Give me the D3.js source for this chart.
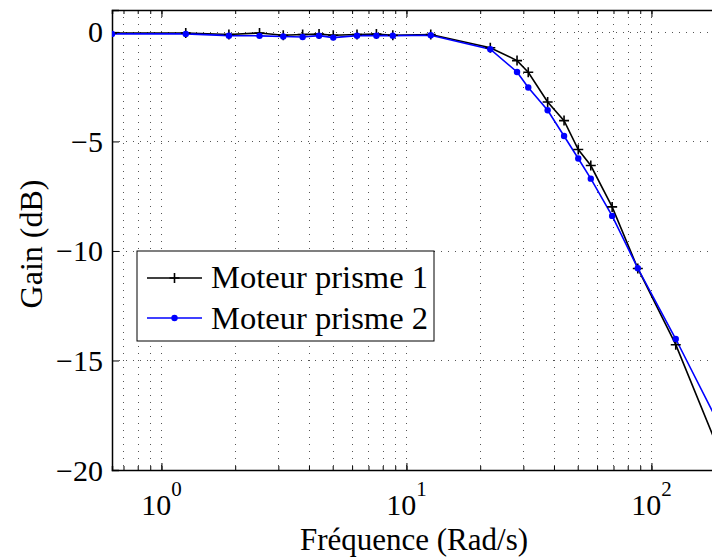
<!DOCTYPE html>
<html><head><meta charset="utf-8">
<script src="https://cdn.jsdelivr.net/npm/d3@7"></script>
<style>
body{margin:0;background:#fff;}
text{font-family:"Liberation Serif","Times New Roman",serif;}
</style></head>
<body><svg id="c" width="712" height="559"></svg>
<script>
const freqs = [0.6283,1.2566,1.885,2.5133,3.1416,3.7699,4.3982,5.0265,6.2832,7.5398,8.7965,12.566,21.991,28.274,31.416,37.699,43.982,50.265,56.549,69.115,87.965,125.66,188.5];
const gain1 = [-0.05,-0.05,-0.12,-0.05,-0.15,-0.12,-0.1,-0.15,-0.12,-0.1,-0.15,-0.12,-0.72,-1.31,-1.84,-3.2,-4.05,-5.37,-6.1,-7.99,-10.8,-14.28,-19.1];
const gain2 = [-0.09,-0.09,-0.17,-0.18,-0.21,-0.23,-0.17,-0.26,-0.17,-0.17,-0.17,-0.15,-0.79,-1.83,-2.54,-3.58,-4.75,-5.78,-6.7,-8.4,-10.79,-14.02,-17.9];
const seriesNames = ["Moteur prisme 1","Moteur prisme 2"];
const yTicks = [0,-5,-10,-15,-20];
const xMajor = [1,10,100];
const xDomain = [0.6283,188.5];
const yDomain = [-20,1];

const svg = d3.select("#c");
const L=112, T=10, B=470;
const R = L + (Math.log10(xDomain[1])-Math.log10(xDomain[0]))*245;
const x = d3.scaleLog().domain(xDomain).range([L,R]);
const y = d3.scaleLinear().domain(yDomain).range([B,T]);

// minor ticks
const minor=[];
for(let d=-1; d<=2; d++) for(let k=1;k<10;k++){const v=k*Math.pow(10,d); if(v>=xDomain[0]&&v<=xDomain[1]) minor.push(v);}

const grid = svg.append("g").attr("stroke","#555").attr("stroke-width",1).attr("stroke-dasharray","1,6").attr("fill","none");
minor.forEach(v=>grid.append("line").attr("x1",Math.round(x(v))+0.5).attr("x2",Math.round(x(v))+0.5).attr("y1",T).attr("y2",B));
yTicks.filter(v=>v>-20).forEach(v=>grid.append("line").attr("x1",L).attr("x2",712).attr("y1",Math.round(y(v))+0.5).attr("y2",Math.round(y(v))+0.5));

// axes
svg.append("g").attr("transform",`translate(0,${B})`).call(d3.axisBottom(x).tickValues(minor).tickSize(-4).tickFormat(""));
svg.append("g").attr("transform",`translate(0,${T})`).call(d3.axisTop(x).tickValues(minor).tickSize(-4).tickFormat(""));
svg.append("g").attr("transform",`translate(0,${B})`).call(d3.axisBottom(x).tickValues(xMajor).tickSize(-7).tickFormat("")).select(".domain").remove();
svg.append("g").attr("transform",`translate(0,${T})`).call(d3.axisTop(x).tickValues(xMajor).tickSize(-7).tickFormat("")).select(".domain").remove();
svg.append("g").attr("transform",`translate(${L},0)`).call(d3.axisLeft(y).tickValues(yTicks).tickSize(-7).tickFormat(""));
svg.selectAll(".domain").attr("stroke","#000").attr("stroke-width",1.5);
svg.selectAll(".tick line").attr("stroke","#000").attr("stroke-width",1);

// y tick labels
yTicks.forEach(v=>{
  svg.append("text").attr("x",103).attr("y",y(v)).attr("dy","0.35em").attr("text-anchor","end")
    .attr("font-size",30).text(v<0?"\u2212"+Math.abs(v):String(v));
});
// x tick labels
xMajor.forEach(v=>{
  const t = svg.append("text").attr("x",x(v)).attr("y",515).attr("text-anchor","middle").attr("font-size",30);
  t.append("tspan").text("10");
  t.append("tspan").attr("dy",-19).attr("font-size",21).text(String(Math.round(Math.log10(v))));
});
svg.append("text").attr("x",414).attr("y",550).attr("text-anchor","middle").attr("font-size",31).text("Fréquence (Rad/s)");
svg.append("text").attr("transform",`translate(42,${(T+B)/2+4}) rotate(-90)`).attr("text-anchor","middle").attr("font-size",32).text("Gain (dB)");

// lines
svg.append("defs").append("clipPath").attr("id","pc").append("rect").attr("x",L).attr("y",T-10).attr("width",R-L+10).attr("height",B-T+20);
const plot = svg.append("g").attr("clip-path","url(#pc)");
const line = d3.line().x(d=>x(d[0])).y(d=>y(d[1]));
const d1 = freqs.map((f,i)=>[f,gain1[i]]);
const d2 = freqs.map((f,i)=>[f,gain2[i]]);
plot.append("path").datum(d1).attr("d",line).attr("fill","none").attr("stroke","#000").attr("stroke-width",1.6);
plot.append("path").datum(d2).attr("d",line).attr("fill","none").attr("stroke","#0000ff").attr("stroke-width",1.6);
plot.selectAll(".p1").data(d1).enter().append("path").attr("transform",d=>`translate(${x(d[0])},${y(d[1])})`)
  .attr("d","M-5,0H5M0,-5V5").attr("stroke","#000").attr("stroke-width",1.6).attr("fill","none");
plot.selectAll(".p2").data(d2).enter().append("circle").attr("cx",d=>x(d[0])).attr("cy",d=>y(d[1])).attr("r",3.2).attr("fill","#0000ff");

// legend
const lg = svg.append("g");
lg.append("rect").attr("x",137).attr("y",251).attr("width",297).attr("height",90).attr("fill","#fff").attr("stroke","#000").attr("stroke-width",1);
const rows=[278,318];
const base=[288,329];
lg.append("line").attr("x1",147).attr("x2",202).attr("y1",rows[0]).attr("y2",rows[0]).attr("stroke","#000").attr("stroke-width",1.6);
lg.append("path").attr("d",`M${174.5-5},${rows[0]}H${174.5+5}M174.5,${rows[0]-5}V${rows[0]+5}`).attr("stroke","#000").attr("stroke-width",1.6);
lg.append("line").attr("x1",147).attr("x2",202).attr("y1",rows[1]).attr("y2",rows[1]).attr("stroke","#0000ff").attr("stroke-width",1.6);
lg.append("circle").attr("cx",174.5).attr("cy",rows[1]).attr("r",3.2).attr("fill","#0000ff");
seriesNames.forEach((n,i)=>lg.append("text").attr("x",211).attr("y",base[i]).attr("font-size",31)
  .attr("textLength",217).attr("lengthAdjust","spacingAndGlyphs").text(n));
</script></body></html>
